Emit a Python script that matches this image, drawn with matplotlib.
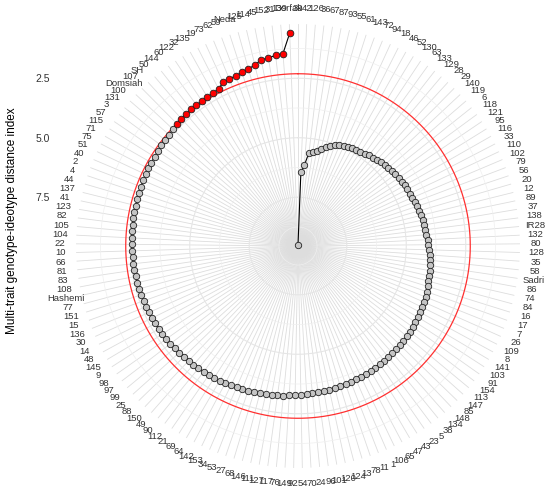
import numpy as np
import matplotlib
matplotlib.use('Agg')
import matplotlib.pyplot as plt

plt.rcParams['font.family'] = ['Liberation Sans', 'DejaVu Sans']

# genotypes ordered clockwise from the top (highest MGIDI first)
genotypes = ['39', '42', '126', '36', '67', '87', '93', '55', '61', '143',
             '72', '94', '18', '46', '52', '130', '63', '133', '129', '28',
             '29', '140', '119', '6', '118', '121', '95', '116', '33', '110',
             '102', '79', '56', '20', '12', '89', '37', '138', 'IR28', '132',
             '80', '128', '35', '58', 'Sadri', '86', '74', '84', '16', '17',
             '7', '26', '109', '8', '141', '103', '91', '154', '113', '147',
             '85', '148', '134', '38', '5', '23', '43', '47', '65', '106',
             '1', '11', '78', '13', '124', '120', '101', '96', '24', '70',
             '54', '92', '149', '76', '117', '127', '111', '146', '68', '27',
             '53', '34', '153', '142', '64', '69', '21', '112', '90', '49',
             '150', '88', '25', '99', '97', '98', '9', '145', '48', '14',
             '30', '136', '15', '151', '77', 'Hashemi', '108', '83', '81', '66',
             '10', '22', '104', '105', '82', '123', '41', '137', '44', '4',
             '2', '40', '51', '75', '71', '115', '57', '3', '131', '100',
             'Domsiah', '107', 'SH', '50', '144', '60', '122', '32', '135', '19',
             '73', '62', '59', 'Neda', '125', '114', '45', '152', '31', '139',
             'Dorfak']

mgidi = [9.50, 6.44, 6.15, 5.60, 5.56, 5.47, 5.35, 5.22, 5.14, 5.05,
         4.97, 4.93, 4.89, 4.84, 4.82, 4.80, 4.76, 4.72, 4.68, 4.63,
         4.59, 4.55, 4.53, 4.51, 4.47, 4.44, 4.42, 4.40, 4.38, 4.36,
         4.34, 4.30, 4.28, 4.26, 4.21, 4.19, 4.17, 4.15, 4.13, 4.09,
         4.07, 4.05, 4.00, 3.98, 3.96, 3.92, 3.90, 3.88, 3.84, 3.79,
         3.77, 3.75, 3.73, 3.71, 3.69, 3.67, 3.65, 3.63, 3.61, 3.60,
         3.58, 3.57, 3.56, 3.54, 3.53, 3.52, 3.50, 3.49, 3.47, 3.46,
         3.45, 3.43, 3.42, 3.40, 3.39, 3.37, 3.36, 3.35, 3.33, 3.31,
         3.30, 3.28, 3.26, 3.23, 3.21, 3.19, 3.17, 3.15, 3.13, 3.11,
         3.09, 3.07, 3.05, 3.02, 3.00, 2.98, 2.96, 2.94, 2.92, 2.90,
         2.88, 2.86, 2.84, 2.81, 2.79, 2.78, 2.76, 2.74, 2.73, 2.71,
         2.69, 2.68, 2.66, 2.65, 2.63, 2.62, 2.61, 2.60, 2.59, 2.58,
         2.57, 2.565, 2.56, 2.55, 2.54, 2.53, 2.525, 2.52, 2.51, 2.50,
         2.49, 2.48, 2.475, 2.47, 2.46, 2.45, 2.44, 2.42, 2.41, 2.39,
         2.37, 2.31, 2.29, 2.27, 2.26, 2.25, 2.24, 2.22, 2.20, 2.15,
         1.99, 1.95, 1.94, 1.88, 1.82, 1.73, 1.57, 1.55, 1.48, 1.44,
         0.60]

n_selected = 20
r_ticks = [2.5, 5.0, 7.5]
r_minor = [1.25, 3.75, 6.25, 8.75]

mgidi = np.array(mgidi)
n = len(genotypes)
theta = np.arange(n) * 2 * np.pi / n
sel = np.zeros(n, dtype=bool)
sel[-n_selected:] = True
cutpoint = mgidi[sel].max()

r_in, r_out = 9.55, 0.22

fig = plt.figure(figsize=(5.5, 4.96), dpi=100)
rect = [76 / 550, 28 / 496, 444 / 550, 444 / 496]
ax = fig.add_axes(rect, projection='polar')
ax.set_theta_zero_location('N')
ax.set_theta_direction(-1)
ax.set_rlim(r_in, r_out)
ax.spines['polar'].set_visible(False)

ax.set_xticks(theta)
ax.set_xticklabels(genotypes, fontsize=6.8, color='#333333')
ax.tick_params(axis='x', pad=1)
ax.xaxis.grid(True, color='#DDDDDD', lw=0.6)

ax.set_yticks(r_ticks)
ax.set_yticklabels([])
ax.set_yticks(r_minor, minor=True)
ax.yaxis.grid(True, which='major', color='#E6E6E6', lw=0.8)
ax.yaxis.grid(True, which='minor', color='#EFEFEF', lw=0.5)
ax.tick_params(axis='y', which='both', length=0)

circ = np.linspace(0, 2 * np.pi, 400)
ax.plot(circ, np.full_like(circ, cutpoint), color='#FF3030', lw=0.9, zorder=3)

ax.plot(theta, mgidi, color='black', lw=0.8, zorder=4)
ax.plot(theta[~sel], mgidi[~sel], 'o', ms=4.6, mfc='#C4C4C4', mec='#222222',
        mew=0.6, zorder=5)
ax.plot(theta[sel], mgidi[sel], 'o', ms=4.8, mfc='#FF0000', mec='#222222',
        mew=0.6, zorder=5)

# radial axis labels drawn on an overlay at the left, as ggplot does
ax2 = fig.add_axes(rect)
ax2.patch.set_alpha(0)
for s in ax2.spines.values():
    s.set_visible(False)
half = r_in - r_out
ax2.set_ylim(r_in + half, r_out)
ax2.set_xticks([])
ax2.set_yticks(r_ticks)
ax2.set_yticklabels(['2.5', '5.0', '7.5'], fontsize=7.5, color='#333333')
ax2.tick_params(axis='y', length=0, pad=19)
ax2.set_ylabel('Multi-trait genotype-ideotype distance index', fontsize=8.5)
ax2.yaxis.set_label_coords(-0.131, 0.556)

fig.savefig('out.png', dpi=100)
